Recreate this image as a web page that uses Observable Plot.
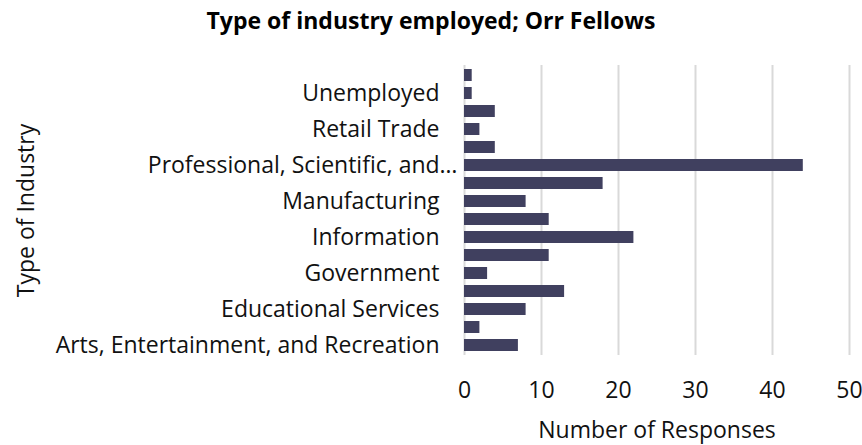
<!DOCTYPE html>
<html><head><meta charset="utf-8">
<script src="https://cdn.jsdelivr.net/npm/d3@7"></script>
<script src="https://cdn.jsdelivr.net/npm/@observablehq/plot@0.6"></script>
<style>
body{margin:0;background:#fff;font-family:"Open Sans",sans-serif;}
#title{width:862px;height:40px;line-height:40px;text-align:center;font-weight:700;font-size:23px;color:#000;}
</style></head><body>
<div id="title">Type of industry employed; Orr Fellows</div>
<div id="chart"></div>
<script>
// Categories, bottom to top (alphabetical); only every other one is labelled in the original
const industries = [
  "Arts, Entertainment, and Recreation",
  "Construction",
  "Educational Services",
  "Finance and Insurance",
  "Government",
  "Health Care and Social Assistance",
  "Information",
  "Management of Companies and Enterprises",
  "Manufacturing",
  "Other Services",
  "Professional, Scientific, and Technical Services",
  "Real Estate and Rental and Leasing",
  "Retail Trade",
  "Transportation and Warehousing",
  "Unemployed",
  "Utilities"
];
const responses = [7, 2, 8, 13, 3, 11, 22, 11, 8, 18, 44, 4, 2, 4, 1, 1];
const labeledIndustries = [
  "Arts, Entertainment, and Recreation",
  "Educational Services",
  "Government",
  "Information",
  "Manufacturing",
  "Retail Trade",
  "Unemployed"
];
const truncatedIndustry = "Professional, Scientific, and Technical Services";
const truncatedLabel = "Professional, Scientific, and…";
const xTicks = [0, 10, 20, 30, 40, 50];

const data = industries.map((industry, i) => ({industry, responses: responses[i]}));

const plot = Plot.plot({
  width: 862,
  height: 405,
  marginTop: 25,
  marginBottom: 90,
  marginLeft: 464,
  marginRight: 13,
  style: {fontFamily: '"Open Sans", sans-serif', fontSize: "23px", color: "#111", background: "#fff"},
  x: {domain: [0, 50]},
  y: {domain: industries, reverse: true, paddingInner: 0.32, paddingOuter: 0.16},
  marks: [
    Plot.gridX(xTicks, {stroke: "#d9d9d9", strokeOpacity: 1, strokeWidth: 2}),
    Plot.barX(data, {x: "responses", y: "industry", fill: "#40405f"}),
    Plot.axisX({ticks: xTicks, tickSize: 0, tickPadding: 26, fontSize: 23,
      label: "Number of Responses", labelArrow: "none", labelAnchor: "center", labelOffset: 82}),
    Plot.axisY({ticks: labeledIndustries, tickSize: 0, tickPadding: 25, fontSize: 23,
      label: "Type of Industry", labelAnchor: "center", labelOffset: 447}),
    Plot.axisY({ticks: [truncatedIndustry], tickSize: 0, tickPadding: 7, fontSize: 23,
      tickFormat: () => truncatedLabel, label: null})
  ]
});
document.getElementById("chart").appendChild(plot);
</script>
</body></html>
